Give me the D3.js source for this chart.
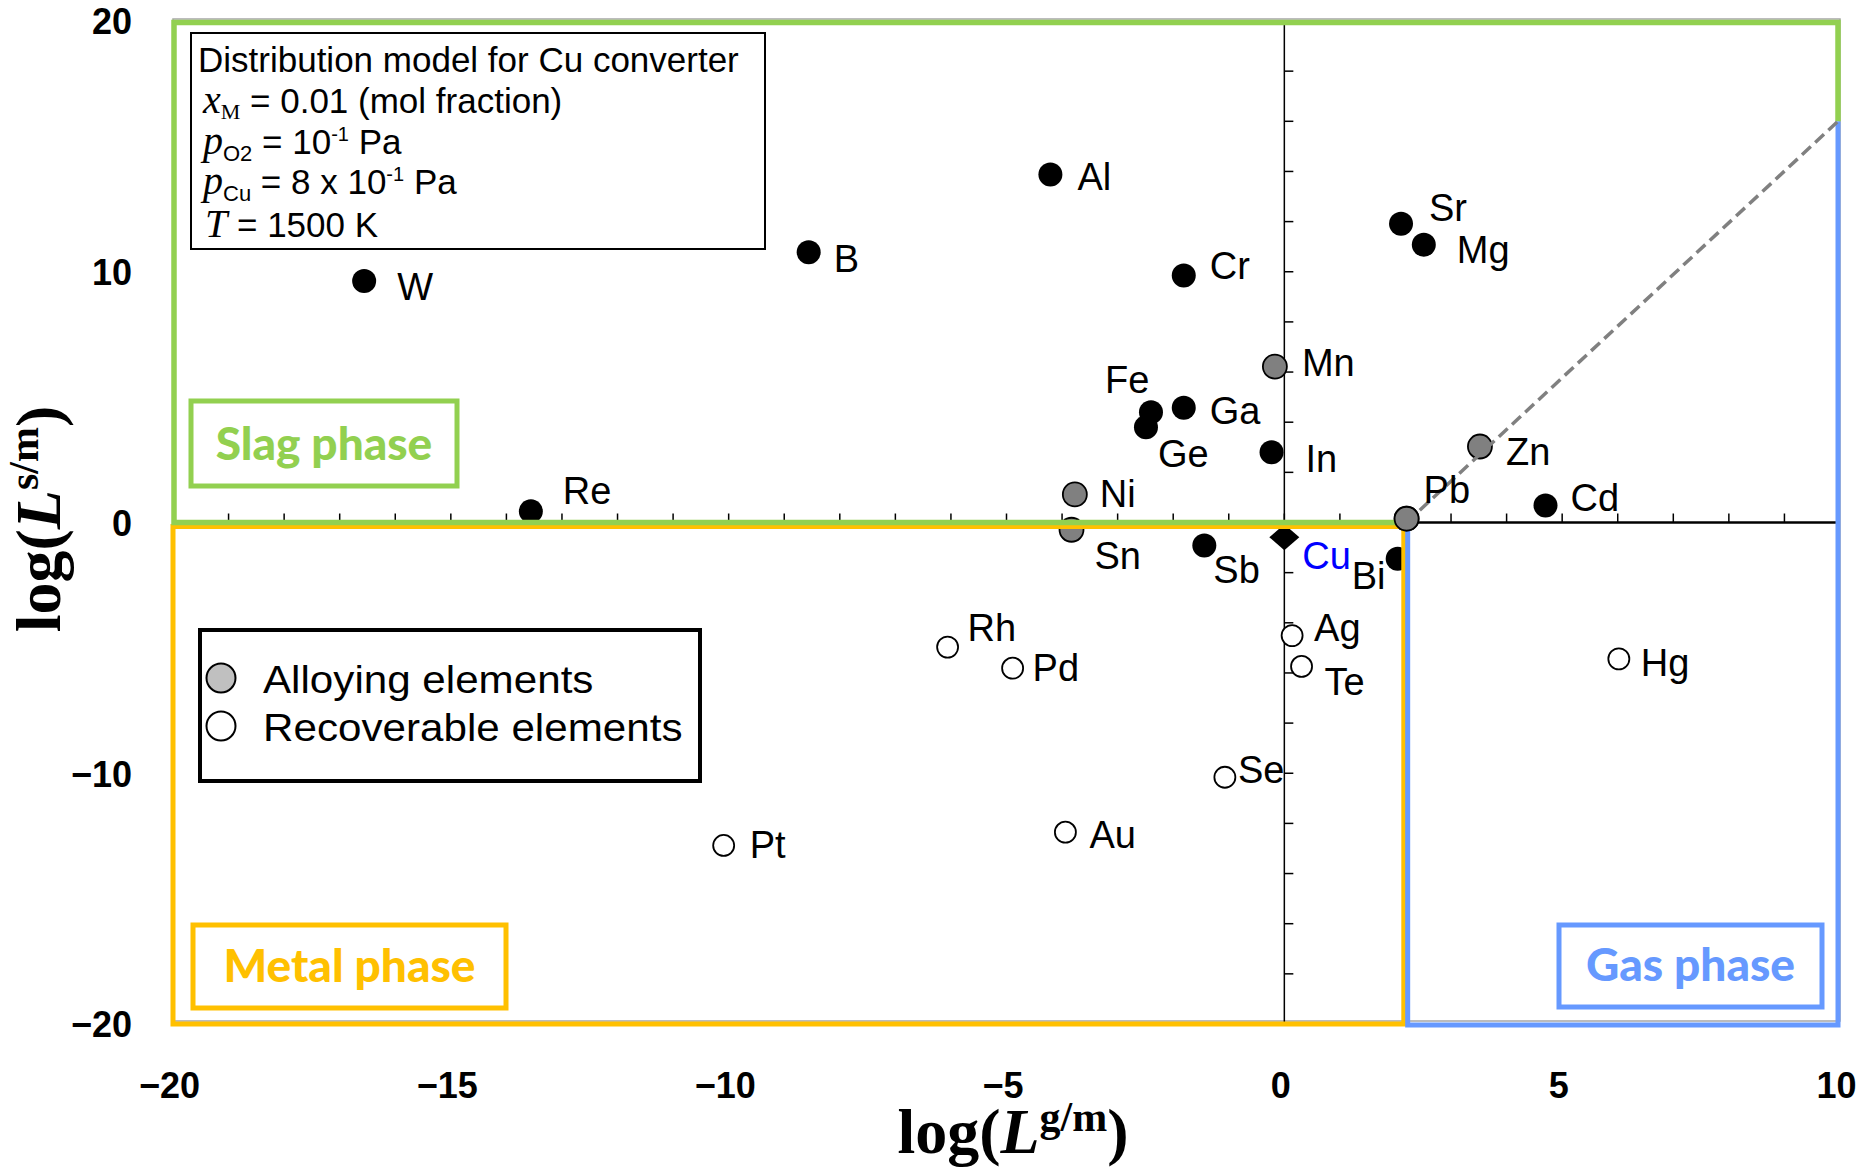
<!DOCTYPE html>
<html><head><meta charset="utf-8">
<script src="https://cdn.jsdelivr.net/npm/d3@7"></script>
<style>body{margin:0;background:#fff}svg{display:block}</style>
</head><body>
<svg id="chart" width="1874" height="1168"></svg>
<script>
// ---------------- data ----------------
const elements = ["W","B","Al","Cr","Sr","Mg","Fe","Ge","Ga","In","Re","Cd","Sb","Bi",
                  "Mn","Zn","Ni","Sn","Pb",
                  "Rh","Pd","Ag","Te","Hg","Se","Au","Pt"];
const logLgm = [-16.56,-8.56,-4.21,-1.81,2.10,2.51,-2.40,-2.49,-1.81,-0.23,-13.56,4.70,-1.44,2.04,
                -0.17,3.52,-3.77,-3.83,2.20,
                -6.06,-4.89,0.14,0.31,6.02,-1.07,-3.94,-10.09];
const logLsm = [9.63,10.78,13.88,9.85,11.91,11.08,4.40,3.80,4.58,2.80,0.45,0.68,-0.92,-1.45,
                6.22,3.03,1.12,-0.29,0.15,
                -4.97,-5.81,-4.51,-5.74,-5.44,-10.16,-12.35,-12.88];
const groups = ["other","other","other","other","other","other","other","other","other","other","other","other","other","other",
                "alloy","alloy","alloy","alloy","alloy",
                "recover","recover","recover","recover","recover","recover","recover","recover"];
const baseElement = {name:"Cu", lgm:0, lsm:-0.59};
const xTicks = [-20,-15,-10,-5,0,5,10];
const yTicks = [-20,-10,0,10,20];
const legendLabels = ["Alloying elements","Recoverable elements"];
const phaseLabels = ["Slag phase","Metal phase","Gas phase"];
// phase boundaries (data units)
const metalRight = 2.15, gasLeft = 2.22, diagStart = [2.2, 0], diagEnd = [10, 16];

// label placement (pixels, relative to marker centre)
const labelOffset = {
  W:[33,19], B:[25,20], Al:[27,16], Cr:[26,3], Sr:[28,-3], Mg:[33,18],
  Fe:[-46,-19], Ge:[12,40], Ga:[26,16], In:[34,20], Re:[32,-7], Cd:[25,6],
  Sb:[9,37], Bi:[-46,30], Mn:[27,9], Zn:[26,18], Ni:[25,13], Sn:[23,39],
  Pb:[17,-16], Rh:[20,-6], Pd:[20,13], Ag:[22,5], Te:[23,29], Hg:[22,17],
  Se:[13,6], Au:[24,16], Pt:[26,13], Cu:[18,32]
};

// ---------------- setup ----------------
const svg = d3.select("#chart");
const SANS = "'Liberation Sans', Arial, sans-serif";
const SERIF = "'Liberation Serif', 'Times New Roman', serif";
const CAL = "Lato, 'Open Sans', sans-serif";
const GREEN = "#92d050", YELLOW = "#ffc000", BLUE = "#6699ff";

const x = d3.scaleLinear().domain([-20,10]).range([173,1840]);
const y = d3.scaleLinear().domain([-20,20]).range([1024,21]);

// plot frame
svg.append("rect").attr("x",x(-20)).attr("y",y(20)-2).attr("width",x(10)-x(-20)).attr("height",y(-20)-y(20)-1)
  .attr("fill","none").attr("stroke","#a6a6a6").attr("stroke-width",1.5);

// ---------------- axes through origin ----------------
const gAx = svg.append("g");
gAx.append("line").attr("x1",x(-20)).attr("x2",x(10)).attr("y1",y(0)).attr("y2",y(0))
  .attr("stroke","#000").attr("stroke-width",2.5);
gAx.selectAll("line.xt").data(d3.range(-19,10)).join("line").attr("class","xt")
  .attr("x1",d=>x(d)).attr("x2",d=>x(d)).attr("y1",y(0)).attr("y2",y(0)-9)
  .attr("stroke","#000").attr("stroke-width",1.5);
gAx.append("line").attr("x1",x(0)).attr("x2",x(0)).attr("y1",y(20)).attr("y2",y(-20))
  .attr("stroke","#000").attr("stroke-width",1.5);
gAx.selectAll("line.yt").data(d3.range(-18,20,2).filter(d=>d!==0)).join("line").attr("class","yt")
  .attr("x1",x(0)).attr("x2",x(0)+9).attr("y1",d=>y(d)).attr("y2",d=>y(d))
  .attr("stroke","#000").attr("stroke-width",1.5);

// tick labels via d3 axes
const yAxis = d3.axisLeft(y).tickValues(yTicks).tickSize(0).tickPadding(41);
const gy = svg.append("g").attr("transform",`translate(${x(-20)},0)`).call(yAxis);
gy.select(".domain").remove();
gy.selectAll("text").attr("font-family",SANS).attr("font-weight","bold").attr("font-size",36).attr("fill","#000").attr("dy","0.36em");

const xAxis = d3.axisBottom(x).tickValues(xTicks).tickSize(0).tickPadding(48);
const gx = svg.append("g").attr("transform",`translate(-4,${y(-20)})`).call(xAxis);
gx.select(".domain").remove();
gx.selectAll("text").attr("font-family",SANS).attr("font-weight","bold").attr("font-size",36).attr("fill","#000");

// ---------------- markers ----------------
const pts = elements.map((e,i)=>({name:e, lgm:logLgm[i], lsm:logLsm[i], g:groups[i]}));
const fillOf = {other:"#000", alloy:"#808080", recover:"#fff"};
svg.append("g").selectAll("circle").data(pts).join("circle")
  .attr("cx",d=>x(d.lgm)).attr("cy",d=>y(d.lsm))
  .attr("r",d=>d.g==="recover"?10.5:12)
  .attr("fill",d=>fillOf[d.g]).attr("stroke","#000").attr("stroke-width",d=>d.g==="other"?0:1.8);

// Cu diamond
const cx0 = x(baseElement.lgm), cy0 = y(baseElement.lsm);
svg.append("path").attr("d",`M${cx0},${cy0-13} L${cx0+15},${cy0} L${cx0},${cy0+13} L${cx0-15},${cy0} Z`).attr("fill","#000");

// ---------------- phase region borders ----------------
// metal (yellow)
svg.append("path").attr("d",
  `M${x(-20)},${y(0)+4} L${x(metalRight)},${y(0)+4} L${x(metalRight)},${y(-20)} L${x(-20)},${y(-20)} Z`)
  .attr("fill","none").attr("stroke",YELLOW).attr("stroke-width",5);
// gas (blue)
svg.append("path").attr("d",
  `M${x(diagEnd[0])-2},${y(diagEnd[1])} L${x(10)-2},${y(-20)+1} L${x(gasLeft)},${y(-20)+1} L${x(gasLeft)},${y(0)+3}`)
  .attr("fill","none").attr("stroke",BLUE).attr("stroke-width",5);
// slag (green)
svg.append("path").attr("d",
  `M${x(diagStart[0])},${y(0)} L${x(-20)+1},${y(0)} L${x(-20)+1},${y(20)+1.5} L${x(10)-2},${y(20)+1.5} L${x(10)-2},${y(diagEnd[1])}`)
  .attr("fill","none").attr("stroke",GREEN).attr("stroke-width",5.5);
// diagonal
svg.append("line").attr("x1",x(diagStart[0])).attr("y1",y(diagStart[1])).attr("x2",x(diagEnd[0])-2).attr("y2",y(diagEnd[1]))
  .attr("stroke","#808080").attr("stroke-width",3.5).attr("stroke-dasharray","12,6");

// redraw Pb on top
const pb = pts.find(d=>d.name==="Pb");
svg.append("circle").attr("cx",x(pb.lgm)).attr("cy",y(pb.lsm)).attr("r",12).attr("fill","#808080").attr("stroke","#000").attr("stroke-width",1.8);

// ---------------- element labels ----------------
svg.append("g").selectAll("text").data(pts).join("text")
  .attr("x",d=>x(d.lgm)+labelOffset[d.name][0]).attr("y",d=>y(d.lsm)+labelOffset[d.name][1])
  .attr("font-family",SANS).attr("font-size",38).attr("fill","#000").text(d=>d.name);
svg.append("text").attr("x",cx0+labelOffset.Cu[0]).attr("y",cy0+labelOffset.Cu[1])
  .attr("font-family",SANS).attr("font-size",38).attr("fill","#0000ff").text(baseElement.name);

// ---------------- phase label boxes ----------------
const boxes = [
  {t:phaseLabels[0], x0:191, y0:401, x1:457, y1:486, c:GREEN},
  {t:phaseLabels[1], x0:193, y0:925, x1:506, y1:1008, c:YELLOW},
  {t:phaseLabels[2], x0:1559, y0:925, x1:1822, y1:1007, c:BLUE}
];
boxes.forEach(b=>{
  svg.append("rect").attr("x",b.x0).attr("y",b.y0).attr("width",b.x1-b.x0).attr("height",b.y1-b.y0)
    .attr("fill","#fff").attr("stroke",b.c).attr("stroke-width",5);
  svg.append("text").attr("x",(b.x0+b.x1)/2).attr("y",b.y1-26).attr("text-anchor","middle")
    .attr("font-family",CAL).attr("font-weight","900").attr("font-size",46).attr("fill",b.c).text(b.t);
});

// ---------------- info box ----------------
svg.append("rect").attr("x",191).attr("y",33).attr("width",574).attr("height",216)
  .attr("fill","#fff").attr("stroke","#000").attr("stroke-width",2);
function infoLine(yy, xx, parts){
  const t = svg.append("text").attr("x",xx).attr("y",yy).attr("fill","#000");
  parts.forEach(p=>{
    const s = t.append("tspan").text(p.s).attr("font-family",p.f||SANS).attr("font-size",p.z||35);
    if(p.i) s.attr("font-style","italic");
    if(p.dy) s.attr("dy",p.dy);
  });
}
infoLine(72,198,[{s:"Distribution model for Cu converter"}]);
infoLine(113,203,[{s:"x",f:SERIF,z:40,i:1},{s:"M",f:SERIF,z:22,dy:6},{s:" = 0.01 (mol fraction)",dy:-6}]);
infoLine(154,203,[{s:"p",f:SERIF,z:40,i:1},{s:"O2",z:22,dy:7},{s:" = 10",dy:-7},{s:"-1",z:20,dy:-13},{s:" Pa",dy:13}]);
infoLine(194,203,[{s:"p",f:SERIF,z:40,i:1},{s:"Cu",z:22,dy:7},{s:" = 8 x 10",dy:-7},{s:"-1",z:20,dy:-13},{s:" Pa",dy:13}]);
infoLine(237,205,[{s:"T",f:SERIF,z:40,i:1},{s:" = 1500 K"}]);

// ---------------- legend ----------------
svg.append("rect").attr("x",200).attr("y",630).attr("width",500).attr("height",151)
  .attr("fill","#fff").attr("stroke","#000").attr("stroke-width",4);
const legFill = ["#c0c0c0","#fff"];
legendLabels.forEach((l,i)=>{
  const yy = 678 + i*48;
  svg.append("circle").attr("cx",221).attr("cy",yy).attr("r",14.5).attr("fill",legFill[i]).attr("stroke","#000").attr("stroke-width",2);
  svg.append("text").attr("transform",`translate(263,${yy+15}) scale(1.11,1)`)
    .attr("font-family",SANS).attr("font-size",38).attr("fill","#000").text(l);
});

// ---------------- axis titles ----------------
function title(g, sup){
  g.attr("font-family",SERIF).attr("font-weight","bold").attr("fill","#000").attr("font-size",64);
  g.append("tspan").text("log(");
  g.append("tspan").text("L").attr("font-style","italic");
  g.append("tspan").text(sup).attr("font-size",42).attr("dy",-22);
  g.append("tspan").text(")").attr("dy",22);
}
title(svg.append("text").attr("x",1013).attr("y",1153).attr("text-anchor","middle"), "g/m");
title(svg.append("text").attr("transform","translate(60,519) rotate(-90)").attr("text-anchor","middle"), "s/m");
</script>
</body></html>
